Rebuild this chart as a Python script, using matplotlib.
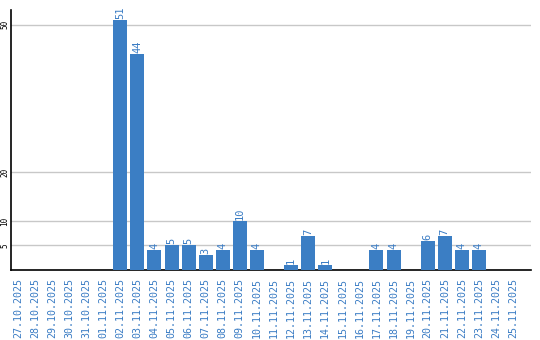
import matplotlib
matplotlib.use("Agg")
import matplotlib.pyplot as plt
import numpy as np

dates = ['27.10.2025', '28.10.2025', '29.10.2025', '30.10.2025', '31.10.2025',
         '01.11.2025', '02.11.2025', '03.11.2025', '04.11.2025', '05.11.2025',
         '06.11.2025', '07.11.2025', '08.11.2025', '09.11.2025', '10.11.2025',
         '11.11.2025', '12.11.2025', '13.11.2025', '14.11.2025', '15.11.2025',
         '16.11.2025', '17.11.2025', '18.11.2025', '19.11.2025', '20.11.2025',
         '21.11.2025', '22.11.2025', '23.11.2025', '24.11.2025', '25.11.2025']
counts = [0, 0, 0, 0, 0, 0, 51, 44, 4, 5, 5, 3, 4, 10, 4,
          0, 1, 7, 1, 0, 0, 4, 4, 0, 6, 7, 4, 4, 0, 0]
yticks = [5, 10, 20, 50]

blue = '#3b7ec4'
txt_blue = '#3a7cc4'

fig = plt.figure(figsize=(5.4, 3.4), dpi=100)
ax = fig.add_axes([11 / 540, 70 / 340, 520 / 540, 260 / 340])

x = np.arange(len(dates))
ax.bar(x, counts, width=0.82, color=blue, zorder=3)

for xi, v in zip(x, counts):
    if v > 0:
        ax.text(xi, v + 0.2, str(v), rotation=90, ha='center', va='bottom',
                color=txt_blue, fontsize=7.5, family='DejaVu Sans Mono')

ax.set_xlim(-0.4, 30.05)
ax.set_ylim(0, 53)
ax.set_yticks(yticks)
ax.set_yticklabels([str(t) for t in yticks], rotation=90, va='center',
                   fontsize=5.5, family='DejaVu Sans Mono')
ax.set_xticks(x)
ax.set_xticklabels(dates, rotation=90, color=txt_blue, fontsize=7.2,
                   family='DejaVu Sans Mono')
ax.tick_params(axis='y', length=0, pad=1)
ax.tick_params(axis='x', length=0, pad=6)
ax.grid(axis='y', color='#c8c8c8', linewidth=1, zorder=0)
ax.spines['top'].set_visible(False)
ax.spines['right'].set_visible(False)
ax.spines['left'].set_linewidth(1.2)
ax.spines['bottom'].set_linewidth(1.2)

fig.savefig('out.png', dpi=100)
